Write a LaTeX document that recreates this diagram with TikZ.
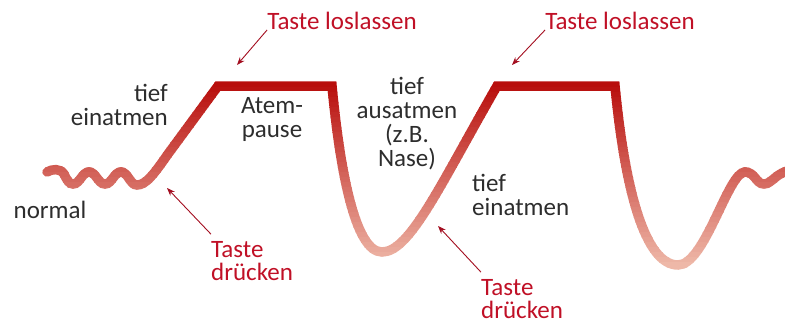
\documentclass[tikz,border=0pt]{standalone}
\usepackage{fontspec}
\setmainfont{Carlito}
\usetikzlibrary{arrows.meta}

\definecolor{curvetop}{RGB}{184,14,12}
\definecolor{curvebot}{RGB}{238,184,168}
\definecolor{keyred}{RGB}{192,16,38}
\definecolor{breathgray}{RGB}{45,45,45}

% the breathing curve, in pixel units
\newcommand{\breathpath}{%
  (47,172) .. controls (52,169) and (60,168) .. (64,174)
  .. controls (67,180) and (69,184) .. (73,184)
  .. controls (80,184) and (82,172) .. (89,172)
  .. controls (96,172) and (98,184) .. (105,184)
  .. controls (112,184) and (114,172) .. (121,172)
  .. controls (128,172) and (130,185) .. (137,185)
  .. controls (146,185) and (154,174) .. (168,154)
  -- (218,86) -- (332,86)
  .. controls (340,170) and (355,252) .. (382,252)
  .. controls (410,252) and (440,185) .. (497,86)
  -- (615,86)
  .. controls (625,190) and (645,265) .. (678,265)
  .. controls (705,265) and (728,172) .. (745,172)
  .. controls (755,172) and (756,184) .. (764,184)
  .. controls (772,184) and (776,172) .. (792,170)}

\begin{document}
\begin{tikzpicture}[x=1pt, y=-1pt,
    breath/.style={line width=9.5pt, line join=miter, line cap=round},
    keylabel/.style={text=keyred, font=\fontsize{25}{23}\selectfont,
                     inner sep=0pt},
    phase/.style={text=breathgray, font=\fontsize{25}{24}\selectfont,
                  inner sep=0pt},
    pointer/.style={-{Stealth[length=8pt,width=6pt]}, draw=keyred!85!black,
                    line width=0.9pt}
]
\useasboundingbox (0,0) rectangle (785,324);

%% ---- curve, drawn in thin bands for the vertical colour fade ----
\foreach \i in {0,...,41}{
  \pgfmathsetmacro\ytop{72+5*\i}
  \pgfmathsetmacro\pct{max(0,min(100,(265-(\ytop+2.5))/1.8))}
  \begin{scope}
    \clip (0,\ytop) rectangle (785,\ytop+5.4);
    \draw [breath, draw=curvetop!\pct!curvebot] \breathpath;
  \end{scope}
}

%% ---- phase labels ----
\node [phase, align=right, anchor=east] (einA)  at (168,105) {tief\\einatmen};
\node [phase, align=center] (pause) at (272,119) {Atem-\\pause};
\node [phase, align=center] (aus)   at (407,124) {tief\\ausatmen\\(z.B.\\Nase)};
\node [phase, align=left, anchor=west]  (einB)  at (472,195) {tief\\einatmen};
\node [phase] (normal) at (50,210) {normal};

%% ---- key labels ----
\node [keylabel] (losA) at (342,21) {Taste loslassen};
\node [keylabel] (losB) at (620,21) {Taste loslassen};
\node [keylabel, align=left, anchor=west] (druckA) at (211,261) {Taste\\drücken};
\node [keylabel, align=left, anchor=west] (druckB) at (481,299) {Taste\\drücken};

%% ---- arrow tips on the curve ----
\coordinate (tipLosA)   at (237,65);
\coordinate (tipLosB)   at (512,65);
\coordinate (tipDruckA) at (167,188);
\coordinate (tipDruckB) at (438,226);

\draw [pointer] (losA.south west)   -- (tipLosA);
\draw [pointer] (losB.south west)   -- (tipLosB);
\draw [pointer] ([yshift=7pt]druckA.north west) -- (tipDruckA);
\draw [pointer] ([yshift=7pt]druckB.north west) -- (tipDruckB);

\end{tikzpicture}
\end{document}
